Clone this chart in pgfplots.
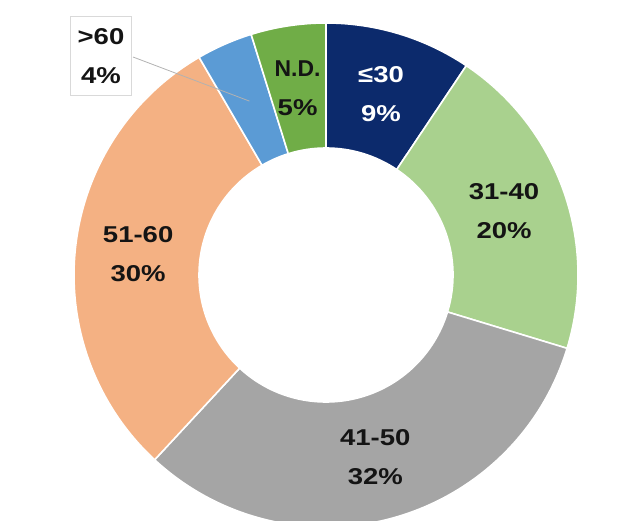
\documentclass[border=0pt]{standalone}
\usepackage{pgfplots}
\pgfplotsset{compat=1.18}
\usepackage{pgfplotstable}
\usepackage{fontspec}
\setmainfont{Liberation Sans}
\newfontfamily\labfont[FakeStretch=1.2]{Liberation Sans}
\newfontfamily\ndfont{Liberation Sans}
\definecolor{cA}{HTML}{0C2A6C}
\definecolor{cB}{HTML}{A9D18E}
\definecolor{cC}{HTML}{A5A5A5}
\definecolor{cD}{HTML}{F4B183}
\definecolor{cE}{HTML}{5B9BD5}
\definecolor{cF}{HTML}{70AD47}
\definecolor{txt}{HTML}{141414}
\pgfplotstableread{
group value
le30  9.4
31-40 20.3
41-50 32.2
51-60 29.7
gt60  3.6
ND    4.7
}\agedata
\begin{document}
\begin{tikzpicture}
\pgfmathsetmacro{\aZ}{90}
\pgfplotstablegetelem{0}{value}\of\agedata \pgfmathsetmacro{\aA}{\aZ-3.6*\pgfplotsretval}
\pgfplotstablegetelem{1}{value}\of\agedata \pgfmathsetmacro{\aB}{\aA-3.6*\pgfplotsretval}
\pgfplotstablegetelem{2}{value}\of\agedata \pgfmathsetmacro{\aC}{\aB-3.6*\pgfplotsretval}
\pgfplotstablegetelem{3}{value}\of\agedata \pgfmathsetmacro{\aD}{\aC-3.6*\pgfplotsretval}
\pgfplotstablegetelem{4}{value}\of\agedata \pgfmathsetmacro{\aE}{\aD-3.6*\pgfplotsretval}
\pgfmathsetmacro{\aF}{\aZ-360}
\pgfmathsetmacro{\mA}{(\aZ+\aA)/2}
\pgfmathsetmacro{\mB}{(\aA+\aB)/2}
\pgfmathsetmacro{\mC}{(\aB+\aC)/2}
\pgfmathsetmacro{\mD}{(\aC+\aD)/2}
\pgfmathsetmacro{\mE}{(\aD+\aE)/2}
\pgfmathsetmacro{\mF}{(\aE+\aF)/2}
\begin{axis}[
  scale only axis, width=636bp, height=521bp,
  xmin=0, xmax=636, ymin=0, ymax=521,
  hide axis, clip=true,
]
\def\ctr{(axis cs:326,246)}
\tikzset{slice/.style={draw=white, line width=1.6bp, line join=round}}
\fill[cA, slice] \ctr ++(\aZ:252bp) arc[start angle=\aZ, end angle=\aA, radius=252bp] -- ++(\aA+180:125bp) arc[start angle=\aA, end angle=\aZ, radius=127bp] -- cycle;
\fill[cB, slice] \ctr ++(\aA:252bp) arc[start angle=\aA, end angle=\aB, radius=252bp] -- ++(\aB+180:125bp) arc[start angle=\aB, end angle=\aA, radius=127bp] -- cycle;
\fill[cC, slice] \ctr ++(\aB:252bp) arc[start angle=\aB, end angle=\aC, radius=252bp] -- ++(\aC+180:125bp) arc[start angle=\aC, end angle=\aB, radius=127bp] -- cycle;
\fill[cD, slice] \ctr ++(\aC:252bp) arc[start angle=\aC, end angle=\aD, radius=252bp] -- ++(\aD+180:125bp) arc[start angle=\aD, end angle=\aC, radius=127bp] -- cycle;
\fill[cE, slice] \ctr ++(\aD:252bp) arc[start angle=\aD, end angle=\aE, radius=252bp] -- ++(\aE+180:125bp) arc[start angle=\aE, end angle=\aD, radius=127bp] -- cycle;
\fill[cF, slice] \ctr ++(\aE:252bp) arc[start angle=\aE, end angle=\aF, radius=252bp] -- ++(\aF+180:125bp) arc[start angle=\aF, end angle=\aE, radius=127bp] -- cycle;
\tikzset{lab/.style={align=center, font=\labfont\fontsize{23}{39}\selectfont\bfseries, text=txt, inner sep=0pt}}
\path \ctr ++(\mA:189bp) node[lab, text=white] {≤30\\9\%};
\path \ctr ++(\mB:189bp) node[lab] {31-40\\20\%};
\path \ctr ++(\mC:189bp) node[lab] {41-50\\32\%};
\path \ctr ++(\mD:189bp) node[lab] {51-60\\30\%};
\path \ctr ++(\mF:189bp) node[lab] {{\ndfont\bfseries N.D.}\\5\%};
\path \ctr ++(\mE:190bp) coordinate (gE);
\draw[gray!60, line width=0.8bp] (axis cs:133,464) -- (gE);
\node[lab, draw=gray!30, line width=0.8bp, fill=white, inner xsep=7bp, inner ysep=12bp] at (axis cs:101,465) {>60\\4\%};
\coordinate (bbSW) at (axis cs:0,0);
\coordinate (bbNE) at (axis cs:636,521);
\end{axis}
\pgfresetboundingbox
\useasboundingbox (bbSW) rectangle (bbNE);
\end{tikzpicture}
\end{document}
